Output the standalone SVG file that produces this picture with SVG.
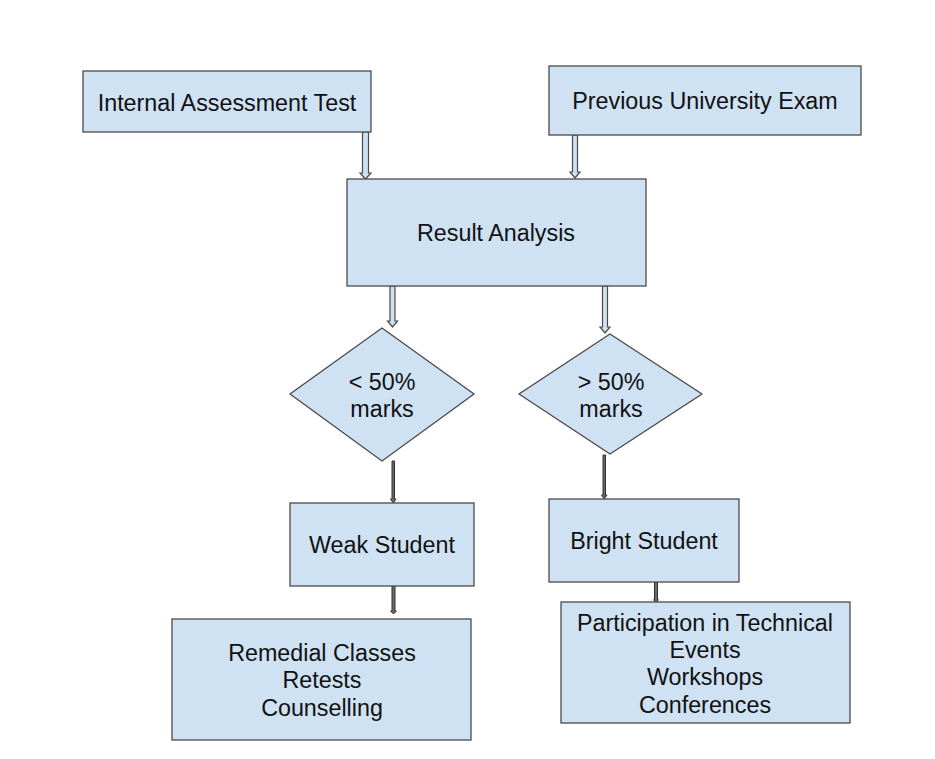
<svg xmlns="http://www.w3.org/2000/svg" width="935" height="759" viewBox="0 0 935 759">
<style>
.n{fill:#cfe2f3;stroke:#4a4a4a;stroke-width:1.3}
.t{font-family:"Liberation Sans",Arial,sans-serif;font-size:23.3px;fill:#111;text-anchor:middle}
.ba{fill:#cfe2f3;stroke:#4a4a4a;stroke-width:1.2;stroke-linejoin:miter}
.na{fill:#6a6a6a;stroke:#333;stroke-width:1}
</style>
<rect width="935" height="759" fill="#fff"/>
<g id="connectors">
<polygon class="ba" points="362.5,132 368.5,132 368.5,173 371,173 365.5,179 360,173 362.5,173"/>
<polygon class="ba" points="572.5,135 577.5,135 577.5,172 580,172 575,178 570,172 572.5,172"/>
<polygon class="ba" points="390,286 395,286 395,321 397.5,321 392.5,327 387.5,321 390,321"/>
<polygon class="ba" points="602.5,286 607.5,286 607.5,327 610,327 605,333 600,327 602.5,327"/>
<polygon class="na" points="392,461 394.5,461 394.5,499 396,499 393.3,503 390.5,499 392,499"/>
<polygon class="na" points="603,455 605.5,455 605.5,495 607,495 604.3,499 601.5,495 603,495"/>
<polygon class="na" points="392,586 395,586 395,611 396.5,611 393.5,614 390.5,611 392,611"/>
<polygon class="na" points="654.5,582 657.5,582 657.5,600 658.5,600 656,602 653.5,600 654.5,600"/>
</g>
<g id="internal">
<rect class="n" x="83" y="71" width="288" height="61"/>
<text class="t" x="227" y="111">Internal Assessment Test</text>
</g>
<g id="previous">
<rect class="n" x="549" y="66" width="312" height="69"/>
<text class="t" x="705" y="109">Previous University Exam</text>
</g>
<g id="result">
<rect class="n" x="347" y="179" width="299" height="107"/>
<text class="t" x="496" y="241">Result Analysis</text>
</g>
<g id="lt50">
<polygon class="n" points="382,328 474,394 382,461 290,394"/>
<text class="t" x="382" y="390">&lt; 50%</text>
<text class="t" x="382" y="417">marks</text>
</g>
<g id="gt50">
<polygon class="n" points="610,334 702,394 610,454 519,394"/>
<text class="t" x="611" y="390">&gt; 50%</text>
<text class="t" x="611" y="417">marks</text>
</g>
<g id="weak">
<rect class="n" x="290" y="503" width="184" height="83"/>
<text class="t" x="382" y="553">Weak Student</text>
</g>
<g id="bright">
<rect class="n" x="549" y="499" width="190" height="83"/>
<text class="t" x="644" y="549">Bright Student</text>
</g>
<g id="remedial">
<rect class="n" x="172" y="619" width="299" height="121"/>
<text class="t" x="322" y="661">Remedial Classes</text>
<text class="t" x="322" y="688">Retests</text>
<text class="t" x="322" y="716">Counselling</text>
</g>
<g id="participation">
<rect class="n" x="561" y="602" width="289" height="121"/>
<text class="t" x="705" y="631">Participation in Technical</text>
<text class="t" x="705" y="658">Events</text>
<text class="t" x="705" y="685">Workshops</text>
<text class="t" x="705" y="713">Conferences</text>
</g>
</svg>
